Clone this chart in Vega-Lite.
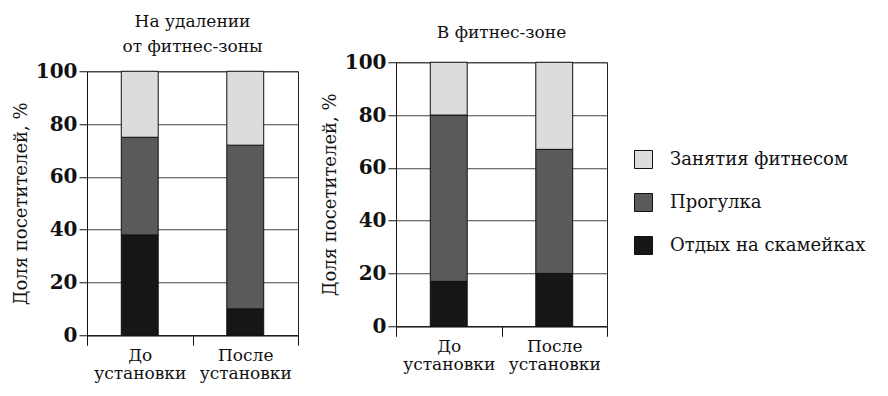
{
  "$schema": "https://vega.github.io/schema/vega-lite/v6.json",
  "padding": {"left": 11, "top": 12, "right": 5, "bottom": 2},
  "background": "white",
  "center": true,
  "config": {
    "font": "DejaVu Serif",
    "view": {"stroke": "#222", "strokeWidth": 1},
    "axis": {"labelFont": "DejaVu Serif", "titleFont": "DejaVu Serif", "domainColor": "#111", "tickColor": "#111", "gridColor": "#444", "labelColor": "#111", "titleColor": "#111"},
    "title": {"font": "DejaVu Serif", "fontSize": 17, "fontWeight": "normal", "color": "#111", "anchor": "middle"},
    "concat": {"spacing": 21}
  },
  "data": {"values": [
    {"zone": "far", "period": "До установки", "activity": "Отдых на скамейках", "ord": 1, "share": 38},
    {"zone": "far", "period": "До установки", "activity": "Прогулка", "ord": 2, "share": 37},
    {"zone": "far", "period": "До установки", "activity": "Занятия фитнесом", "ord": 3, "share": 25},
    {"zone": "far", "period": "После установки", "activity": "Отдых на скамейках", "ord": 1, "share": 10},
    {"zone": "far", "period": "После установки", "activity": "Прогулка", "ord": 2, "share": 62},
    {"zone": "far", "period": "После установки", "activity": "Занятия фитнесом", "ord": 3, "share": 28},
    {"zone": "fit", "period": "До установки", "activity": "Отдых на скамейках", "ord": 1, "share": 17},
    {"zone": "fit", "period": "До установки", "activity": "Прогулка", "ord": 2, "share": 63},
    {"zone": "fit", "period": "До установки", "activity": "Занятия фитнесом", "ord": 3, "share": 20},
    {"zone": "fit", "period": "После установки", "activity": "Отдых на скамейках", "ord": 1, "share": 20},
    {"zone": "fit", "period": "После установки", "activity": "Прогулка", "ord": 2, "share": 47},
    {"zone": "fit", "period": "После установки", "activity": "Занятия фитнесом", "ord": 3, "share": 33}
  ]},
  "hconcat": [
    {
      "title": {"text": ["На удалении", "от фитнес-зоны"], "offset": 5, "lineHeight": 25},
      "width": 211,
      "height": 264,
      "transform": [{"filter": "datum.zone == 'far'"}],
      "mark": {"type": "bar", "width": {"band": 0.35}, "stroke": "#111", "strokeWidth": 1},
      "encoding": {
        "x": {"field": "period", "type": "nominal", "sort": ["До установки", "После установки"], "scale": {"paddingInner": 0, "paddingOuter": 0},
          "axis": {"title": null, "labelAngle": 0, "labelExpr": "split(datum.label, ' ')", "labelFontSize": 17, "labelLineHeight": 18, "tickBand": "extent", "tickSize": 10, "labelPadding": 2, "grid": false}},
        "y": {"field": "share", "type": "quantitative", "stack": "zero", "scale": {"domain": [0, 100]},
          "axis": {"title": "Доля посетителей, %", "values": [0, 20, 40, 60, 80, 100], "labelFontSize": 20, "labelFontWeight": "bold", "tickSize": 8, "labelPadding": 2, "titleFontSize": 18, "titleFontWeight": "normal", "titlePadding": 5, "grid": true}},
        "color": {"field": "activity", "type": "nominal",
          "scale": {"domain": ["Занятия фитнесом", "Прогулка", "Отдых на скамейках"], "range": ["#dcdcdc", "#5a5a5a", "#161616"]},
          "legend": {"title": null, "orient": "none", "legendX": 547, "legendY": 88, "symbolType": "square", "symbolSize": 324, "symbolStrokeColor": "#111", "symbolStrokeWidth": 1, "symbolOpacity": 1, "labelFont": "DejaVu Serif", "labelFontSize": 18, "labelColor": "#111", "labelOffset": 17, "labelLimit": 300, "rowPadding": 20}},
        "order": {"field": "ord", "type": "quantitative"}
      }
    },
    {
      "title": {"text": "В фитнес-зоне", "offset": 10},
      "width": 211,
      "height": 264,
      "transform": [{"filter": "datum.zone == 'fit'"}],
      "mark": {"type": "bar", "width": {"band": 0.35}, "stroke": "#111", "strokeWidth": 1},
      "encoding": {
        "x": {"field": "period", "type": "nominal", "sort": ["До установки", "После установки"], "scale": {"paddingInner": 0, "paddingOuter": 0},
          "axis": {"title": null, "labelAngle": 0, "labelExpr": "split(datum.label + ' ', ' ')", "labelFontSize": 17, "labelLineHeight": 18, "tickBand": "extent", "tickSize": 10, "labelPadding": 2, "grid": false}},
        "y": {"field": "share", "type": "quantitative", "stack": "zero", "scale": {"domain": [0, 100]},
          "axis": {"title": "Доля посетителей, %", "values": [0, 20, 40, 60, 80, 100], "labelFontSize": 20, "labelFontWeight": "bold", "tickSize": 8, "labelPadding": 2, "titleFontSize": 18, "titleFontWeight": "normal", "titlePadding": 5, "grid": true}},
        "color": {"field": "activity", "type": "nominal",
          "scale": {"domain": ["Занятия фитнесом", "Прогулка", "Отдых на скамейках"], "range": ["#dcdcdc", "#5a5a5a", "#161616"]}},
        "order": {"field": "ord", "type": "quantitative"}
      }
    }
  ]
}
